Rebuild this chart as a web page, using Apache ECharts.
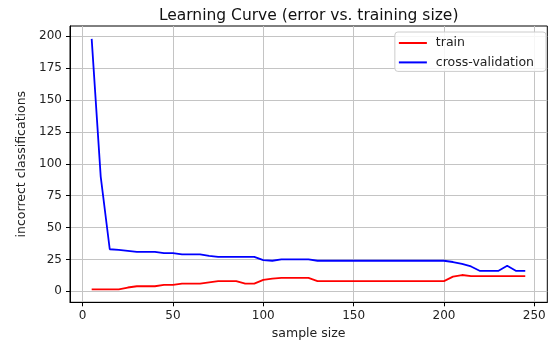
<!DOCTYPE html>
<html>
<head>
<meta charset="utf-8">
<script src="https://cdn.jsdelivr.net/npm/echarts@6/dist/echarts.min.js"></script>
<style>html,body{margin:0;padding:0;background:#fff}#c{width:559px;height:341px}</style>
</head>
<body>
<div id="c"></div>
<script>
const sampleSizes = [5,10,15,20,25,30,35,40,45,50,55,60,65,70,75,80,85,90,95,100,105,110,115,120,125,130,135,140,145,150,155,160,165,170,175,180,185,190,195,200,205,210,215,220,225,230,235,240,245];
const trainErrors = [1.5,1.5,1.5,1.5,3,4,4,4,5,5,6,6,6,7,8,8,8,6,6,9,10,10.5,10.5,10.5,10.5,8,8,8,8,8,8,8,8,8,8,8,8,8,8,8,11.5,12.8,12,12,12,12,12,12,12];
const cvErrors = [198,90,33,32.5,31.8,31,31,31,30,30,29,29,29,27.8,27,27,27,27,27,24.5,24,25,25,25,25,24,24,24,24,24,24,24,24,24,24,24,24,24,24,24,23,21.5,19.5,16,16,16,20,16,16];
const xTicks = [0,50,100,150,200,250];
const yTicks = [0,25,50,75,100,125,150,175,200];
const seriesNames = ['train','cross-validation'];
const titleText = 'Learning Curve (error vs. training size)';
const xName = 'sample size';
const yName = 'incorrect classifications';

const FONT = 'DejaVu Sans';
const chart = echarts.init(document.getElementById('c'), null, {renderer:'canvas'});
const gridL = 70, gridR = 11.7, gridT = 26, gridB = 38.7;
const plotCenterX = gridL + (559 - gridL - gridR) / 2;

chart.setOption({
  animation: false,
  backgroundColor: '#fff',
  grid: {left: gridL, right: gridR, top: gridT, bottom: gridB, show: true, borderColor: '#000', borderWidth: 1, outerBoundsMode: 'none'},
  graphic: [{
    type: 'text', x: plotCenterX, y: 15.5,
    style: {text: titleText, fontFamily: FONT, fontSize: 15.5, fill: '#111', textAlign: 'center', textVerticalAlign: 'middle'}
  }],
  legend: {
    right: 13, top: 32, orient: 'vertical',
    data: seriesNames, icon: 'rect', itemWidth: 28, itemHeight: 2, itemGap: 5.4,
    padding: [4, 12, 2, 4],
    backgroundColor: 'rgba(255,255,255,0.85)', borderColor: '#cccccc', borderWidth: 1, borderRadius: 3,
    textStyle: {fontFamily: FONT, fontSize: 12.5, color: '#222', lineHeight: 14, padding: [0,0,0,4]}
  },
  xAxis: {
    type: 'value', min: -7, max: 257.2,
    name: xName, nameLocation: 'middle', nameGap: 24,
    nameTextStyle: {fontFamily: FONT, fontSize: 12.5, color: '#222'},
    axisLine: {show: true, onZero: false, lineStyle: {color: '#000', width: 1}},
    axisTick: {show: true, length: 4, customValues: xTicks, lineStyle: {color: '#000'}},
    axisLabel: {customValues: xTicks, margin: 8, fontFamily: FONT, fontSize: 12, color: '#222'},
    splitLine: {show: true, lineStyle: {color: '#c4c4c4', width: 1}}
  },
  yAxis: {
    type: 'value', min: -8.6, max: 208.1,
    name: yName, nameLocation: 'middle', nameGap: 40, nameRotate: 90,
    nameTextStyle: {fontFamily: FONT, fontSize: 12.5, color: '#222'},
    axisLine: {show: true, onZero: false, lineStyle: {color: '#000', width: 1}},
    axisTick: {show: true, length: 4, customValues: yTicks, lineStyle: {color: '#000'}},
    axisLabel: {customValues: yTicks, margin: 8, fontFamily: FONT, fontSize: 12, color: '#222'},
    splitLine: {show: true, lineStyle: {color: '#c4c4c4', width: 1}}
  },
  series: [
    {name: seriesNames[0], type: 'line', showSymbol: false, color: '#ff0000', lineStyle: {width: 1.8},
     data: sampleSizes.map((s, i) => [s, trainErrors[i]])},
    {name: seriesNames[1], type: 'line', showSymbol: false, color: '#0000ff', lineStyle: {width: 1.8},
     data: sampleSizes.map((s, i) => [s, cvErrors[i]])}
  ]
});
</script>
</body>
</html>
